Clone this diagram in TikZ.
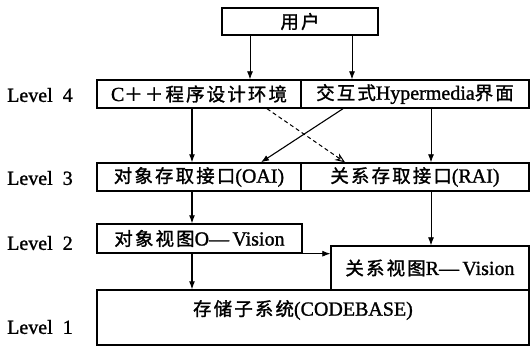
\documentclass[tikz,border=0pt]{standalone}
\usepackage{fontspec}
\setmainfont[FakeBold=1.2]{Liberation Serif}
\newfontfamily\cjk[Scale=0.92,LetterSpace=12,FakeBold=1.5]{Noto Sans CJK SC}
\usetikzlibrary{arrows.meta}
\begin{document}
\begin{tikzpicture}[x=1pt,y=-1pt,
  box/.style={draw, line width=1.4pt, inner sep=0pt, font=\fontsize{20}{22}\selectfont},
  lvl/.style={anchor=west, inner sep=0pt, font=\fontsize{20}{22}\selectfont},
  txt/.style={inner sep=0pt, font=\fontsize{20}{22}\selectfont},
  arr/.style={line width=1.1pt, -{Latex[length=8pt,width=6pt]}},
  thinarr/.style={line width=0.8pt, -{Latex[length=8pt,width=6pt]}},
  dasharr/.style={line width=1pt, dash pattern=on 4pt off 3pt, -{Stealth[length=10pt,width=8pt,open]}}]
\useasboundingbox (0,0) rectangle (531,348);
% boxes
\node[box, minimum width=156pt, minimum height=27pt] (user) at (300,21.5) {{\cjk 用户}};
\node[box, minimum width=204pt, minimum height=28pt] (cpp) at (199,94) {C{\cjk ＋＋程序设计环境}};
\node[box, minimum width=228pt, minimum height=28pt] (hyp) at (415,94) {{\cjk 交互式}Hypermedia{\cjk 界面}};
\node[box, minimum width=204pt, minimum height=28pt] (oai) at (199,177) {{\cjk 对象存取接口}(OAI)};
\node[box, minimum width=228pt, minimum height=28pt] (rai) at (415,177) {{\cjk 关系存取接口}(RAI)};
\node[box, minimum width=205pt, minimum height=29pt] (ov) at (199.5,238.5) {{\cjk 对象视图}O—\,Vision};
\node[box, minimum width=198pt, minimum height=44pt] (rv) at (430,268) {{\cjk 关系视图}R—\,Vision};
\node[box, minimum width=432pt, minimum height=55pt] (cb) at (313,317.5) {};
\node[txt] (cbt) at (303,310) {{\cjk 存储子系统}(CODEBASE)};
% level labels
\node[lvl] (l4) at (7,95) {Level~~4};
\node[lvl] (l3) at (7,178) {Level~~3};
\node[lvl] (l2) at (7,243) {Level~~2};
\node[lvl] (l1) at (7,327) {Level~~1};
% helper coordinates
\coordinate (xa) at (250,0);
\coordinate (xb) at (352,0);
\coordinate (xl) at (192,0);
\coordinate (xr) at (431,0);
\coordinate (d1s) at (343,0);
\coordinate (d1e) at (261,0);
\coordinate (d2s) at (267,0);
\coordinate (d2e) at (345,0);
% connectors
\draw[thinarr] (user.south -| xa) -- (cpp.north -| xa);
\draw[thinarr] (user.south -| xb) -- (hyp.north -| xb);
\draw[arr] (cpp.south -| xl) -- (oai.north -| xl);
\draw[thinarr] (hyp.south -| xr) -- (rai.north -| xr);
\draw[arr] (hyp.south -| d1s) -- (oai.north -| d1e);
\draw[dasharr] (cpp.south -| d2s) -- (rai.north -| d2e);
\draw[arr] (oai.south -| xl) -- (ov.north -| xl);
\draw[thinarr] (rai.south -| xr) -- (rv.north -| xr);
\draw[arr] (ov.south -| xl) -- (cb.north -| xl);
\draw[thinarr] (ov.south east) -- (rv.west |- ov.south east);
\end{tikzpicture}
\end{document}
